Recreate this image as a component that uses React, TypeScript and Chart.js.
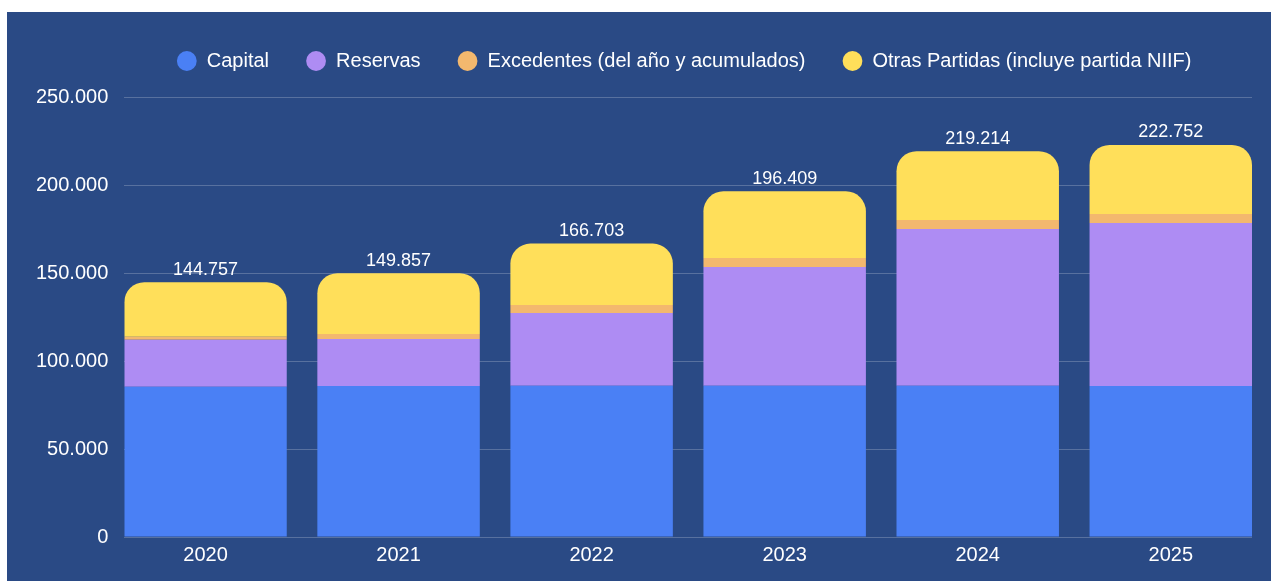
import React, { useEffect, useRef } from 'react';
import { Chart, registerables } from 'chart.js';

Chart.register(...registerables);

const years = ['2020', '2021', '2022', '2023', '2024', '2025'];
const capital = [85300, 85800, 86000, 86000, 86000, 85800];
const reservas = [26800, 26700, 41300, 67400, 89000, 92600];
const excedentes = [1700, 2800, 4500, 5100, 5100, 5100];
const otras = [30957, 34557, 34903, 37909, 39114, 39252];
const seriesNames = [
  'Capital',
  'Reservas',
  'Excedentes (del año y acumulados)',
  'Otras Partidas (incluye partida NIIF)',
];
const seriesColors = ['#4a80f5', '#ae8cf3', '#f3b86e', '#ffdf5a'];
const yMax = 250000;
const yStep = 50000;

const FONT = '"Liberation Sans", Arial, Helvetica, sans-serif';
const BG = '#2a4a85';

const fmt = (n: number) =>
  String(Math.round(n)).replace(/\B(?=(\d{3})+(?!\d))/g, '.');

const totalsPlugin = {
  id: 'totals',
  afterDatasetsDraw(chart: any) {
    const ctx = chart.ctx;
    const meta = chart.getDatasetMeta(chart.data.datasets.length - 1);
    ctx.save();
    ctx.font = `18px ${FONT}`;
    ctx.fillStyle = '#ffffff';
    ctx.textAlign = 'center';
    ctx.textBaseline = 'alphabetic';
    meta.data.forEach((el: any, i: number) => {
      const total = capital[i] + reservas[i] + excedentes[i] + otras[i];
      ctx.fillText(fmt(total), el.x, el.y - 7.5);
    });
    ctx.restore();
  },
};

// center the legend row over the plot area rather than the whole canvas
const legendCenterPlugin = {
  id: 'legendCenter',
  afterLayout(chart: any) {
    const lg = chart.legend;
    const ca = chart.chartArea;
    if (!lg || !ca) return;
    const target = (ca.left + ca.right) / 2 - 4;
    const cur = (lg.left + lg.right) / 2;
    const d = target - cur;
    lg.left += d;
    lg.right += d;
  },
};

export default function App() {
  const ref = useRef<HTMLCanvasElement>(null);

  useEffect(() => {
    const barPct = 0.8415;
    const seriesData = [capital, reservas, excedentes, otras];
    const chart = new Chart(ref.current as HTMLCanvasElement, {
      type: 'bar',
      data: {
        labels: years,
        datasets: seriesData.map((d, i) => ({
          label: seriesNames[i],
          data: d,
          backgroundColor: seriesColors[i],
          borderWidth: 0,
          ...(i === seriesData.length - 1
            ? { borderRadius: { topLeft: 20, topRight: 20, bottomLeft: 0, bottomRight: 0 } }
            : {}),
        })),
      },
      options: {
        responsive: false,
        animation: false,
        layout: { padding: { left: 13, right: 19, top: 2, bottom: 8 } },
        datasets: {
          bar: { categoryPercentage: 1, barPercentage: barPct },
        },
        plugins: {
          title: {
            display: true,
            text: '',
            weight: 0,
            padding: 0,
            font: { size: 16, lineHeight: 1 },
          },
          legend: {
            position: 'top',
            align: 'center',
            labels: {
              usePointStyle: true,
              pointStyle: 'circle',
              boxWidth: 20,
              boxHeight: 14,
              padding: 37,
              color: '#ffffff',
              font: { size: 20, family: FONT },
            },
          },
          tooltip: { enabled: false },
        },
        scales: {
          x: {
            stacked: true,
            grid: { display: false, drawTicks: false },
            border: { display: false },
            ticks: {
              color: '#ffffff',
              font: { size: 20, family: FONT },
              padding: 6,
              maxRotation: 0,
            },
            afterBuildTicks: (s: any) => {
              s._startValue = -barPct / 2;
              s._valueRange = years.length - 1 + barPct;
            },
          },
          y: {
            stacked: true,
            min: 0,
            max: yMax,
            ticks: {
              stepSize: yStep,
              color: '#ffffff',
              font: { size: 20, family: FONT },
              padding: 16,
              callback: (v: any) => fmt(Number(v)),
            },
            grid: { color: 'rgba(255,255,255,0.22)', drawTicks: false, lineWidth: 1 },
            border: { display: false },
          },
        },
      } as any,
      plugins: [totalsPlugin, legendCenterPlugin],
    });
    return () => chart.destroy();
  }, []);

  return (
    <div
      style={{
        position: 'fixed',
        left: 7,
        top: 12,
        width: 1264,
        height: 569,
        background: BG,
      }}
    >
      <canvas ref={ref} width={1264} height={569} style={{ display: 'block' }} />
    </div>
  );
}
